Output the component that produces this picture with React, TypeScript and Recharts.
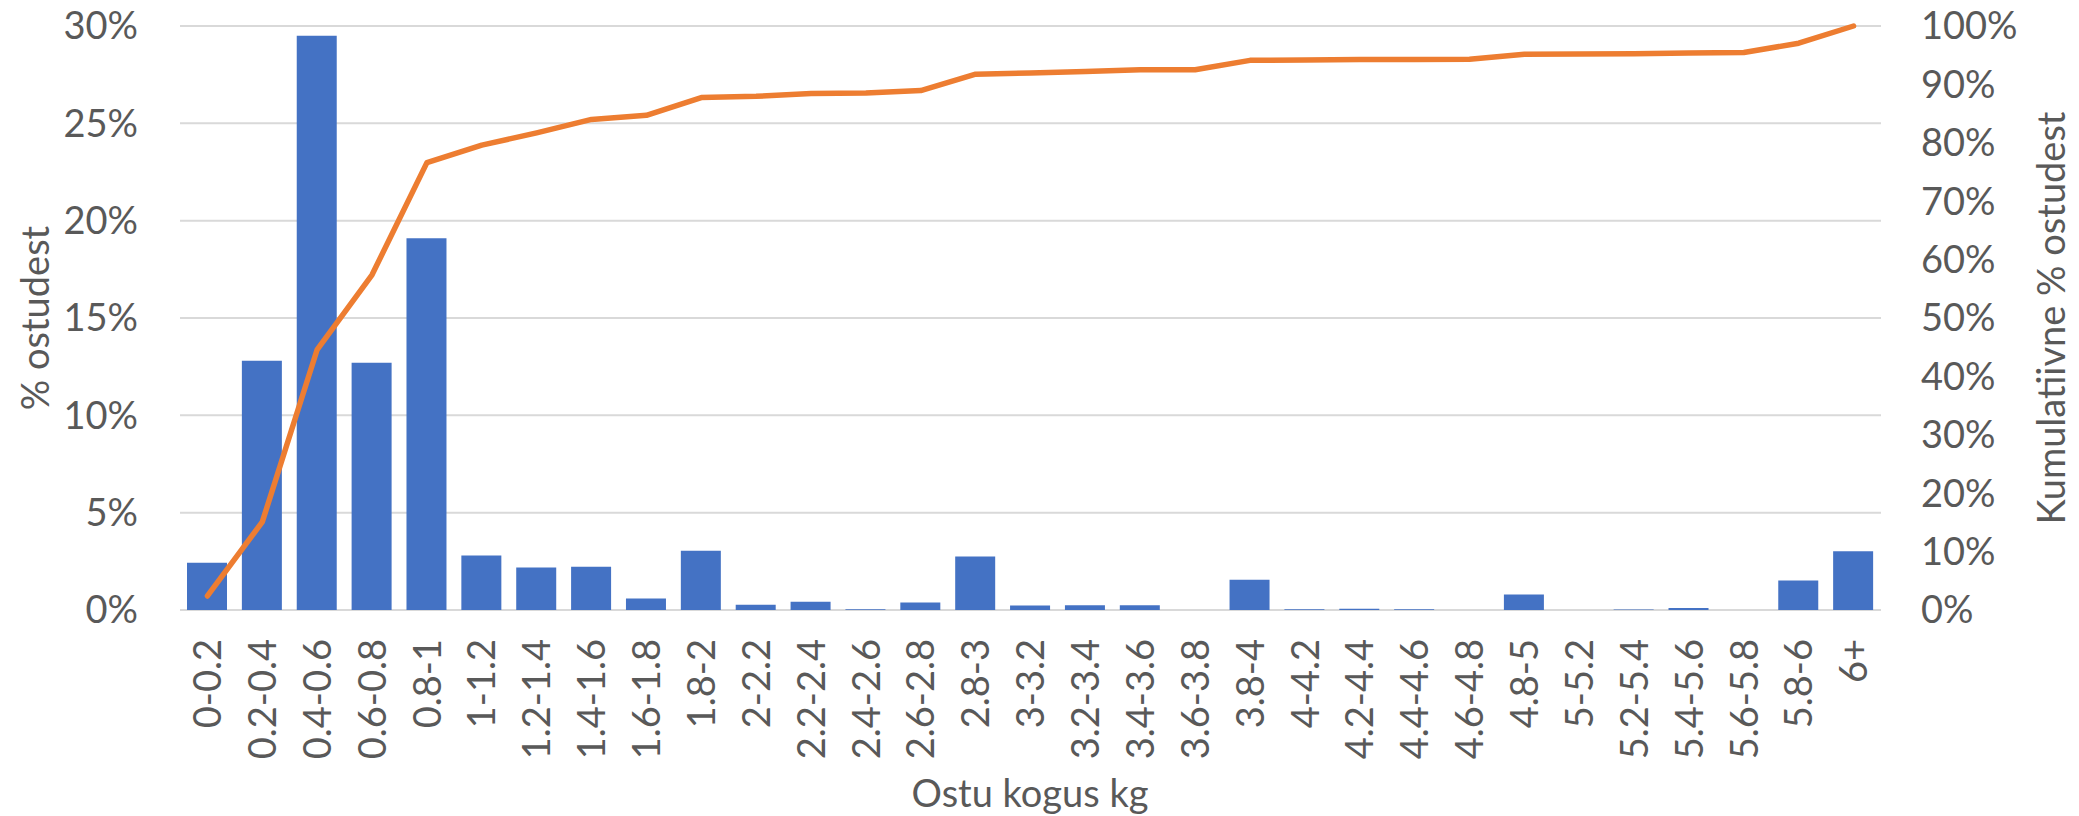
import React from 'react';
import { ComposedChart, Bar, Line, XAxis, YAxis, CartesianGrid } from 'recharts';

// kg ranges of a purchase
const categories = [
  '0-0.2', '0.2-0.4', '0.4-0.6', '0.6-0.8', '0.8-1', '1-1.2', '1.2-1.4', '1.4-1.6',
  '1.6-1.8', '1.8-2', '2-2.2', '2.2-2.4', '2.4-2.6', '2.6-2.8', '2.8-3', '3-3.2',
  '3.2-3.4', '3.4-3.6', '3.6-3.8', '3.8-4', '4-4.2', '4.2-4.4', '4.4-4.6', '4.6-4.8',
  '4.8-5', '5-5.2', '5.2-5.4', '5.4-5.6', '5.6-5.8', '5.8-6', '6+',
];

// % ostudest (left axis)
const sharePct = [
  2.43, 12.8, 29.5, 12.7, 19.1, 2.8, 2.18, 2.22,
  0.59, 3.04, 0.27, 0.42, 0.04, 0.38, 2.75, 0.23,
  0.25, 0.25, 0, 1.55, 0.04, 0.06, 0.04, 0,
  0.8, 0, 0.02, 0.1, 0, 1.51, 3.02,
];

// Kumulatiivne % ostudest (right axis)
const cumulativePct = [
  2.4, 15.1, 44.6, 57.4, 76.6, 79.6, 81.7, 84.0,
  84.7, 87.75, 87.96, 88.45, 88.52, 88.94, 91.74, 91.95,
  92.23, 92.5, 92.5, 94.12, 94.19, 94.26, 94.28, 94.3,
  95.17, 95.2, 95.24, 95.38, 95.45, 97.06, 100,
];

const leftTicks = [0, 5, 10, 15, 20, 25, 30];
const rightTicks = [0, 10, 20, 30, 40, 50, 60, 70, 80, 90, 100];

const data = categories.map((name, i) => ({
  name,
  share: sharePct[i],
  cumulative: cumulativePct[i],
}));

const FONT = 'Lato, "Open Sans", sans-serif';
const TEXT = '#595959';

const XTick = (props: any) => {
  const { x, y, payload } = props;
  return (
    <g transform={`translate(${x},${y})`}>
      <text
        transform="rotate(-90)"
        textAnchor="end"
        dy="0.36em"
        fill={TEXT}
        fontSize={38}
        fontFamily={FONT}
      >
        {payload.value}
      </text>
    </g>
  );
};

const LeftTitle = () => (
  <text
    transform="translate(49,318) rotate(-90)"
    textAnchor="middle"
    fill={TEXT}
    fontSize={38}
    fontFamily={FONT}
  >
    % ostudest
  </text>
);

const RightTitle = () => (
  <text
    transform="translate(2065,318) rotate(-90)"
    textAnchor="middle"
    fill={TEXT}
    fontSize={38}
    fontFamily={FONT}
  >
    Kumulatiivne % ostudest
  </text>
);

const BottomTitle = () => (
  <text x={1030} y={807} textAnchor="middle" fill={TEXT} fontSize={38} fontFamily={FONT}>
    Ostu kogus kg
  </text>
);

export default function App() {
  const tickStyle = { fill: TEXT, fontSize: 38, fontFamily: FONT };
  return (
    <div style={{ position: 'absolute', left: 0, top: 0, width: 2079, height: 816, background: '#fff' }}>
      <ComposedChart
        width={2079}
        height={816}
        data={data}
        margin={{ top: 26, right: 0, bottom: 0, left: 0 }}
      >
        <CartesianGrid yAxisId="left" vertical={false} stroke="#d9d9d9" strokeWidth={2} />
        <XAxis
          dataKey="name"
          interval={0}
          height={206}
          axisLine={false}
          tickLine={false}
          tickSize={0}
          tickMargin={29}
          tick={<XTick />}
          label={<BottomTitle />}
        />
        <YAxis
          yAxisId="left"
          width={180}
          domain={[0, 30]}
          ticks={leftTicks}
          tickFormatter={(v) => `${v}%`}
          axisLine={false}
          tickLine={false}
          tickSize={0}
          tickMargin={42}
          tick={tickStyle}
          label={<LeftTitle />}
        />
        <YAxis
          yAxisId="right"
          orientation="right"
          width={198}
          domain={[0, 100]}
          ticks={rightTicks}
          tickFormatter={(v) => `${v}%`}
          axisLine={false}
          tickLine={false}
          tickSize={0}
          tickMargin={40}
          tick={tickStyle}
          label={<RightTitle />}
        />
        <Bar yAxisId="left" dataKey="share" fill="#4472C4" barSize={40} isAnimationActive={false} />
        <Line
          yAxisId="right"
          type="linear"
          dataKey="cumulative"
          stroke="#ED7D31"
          strokeWidth={5.5}
          strokeLinecap="round"
          strokeLinejoin="round"
          dot={false}
          activeDot={false}
          isAnimationActive={false}
        />
      </ComposedChart>
    </div>
  );
}
